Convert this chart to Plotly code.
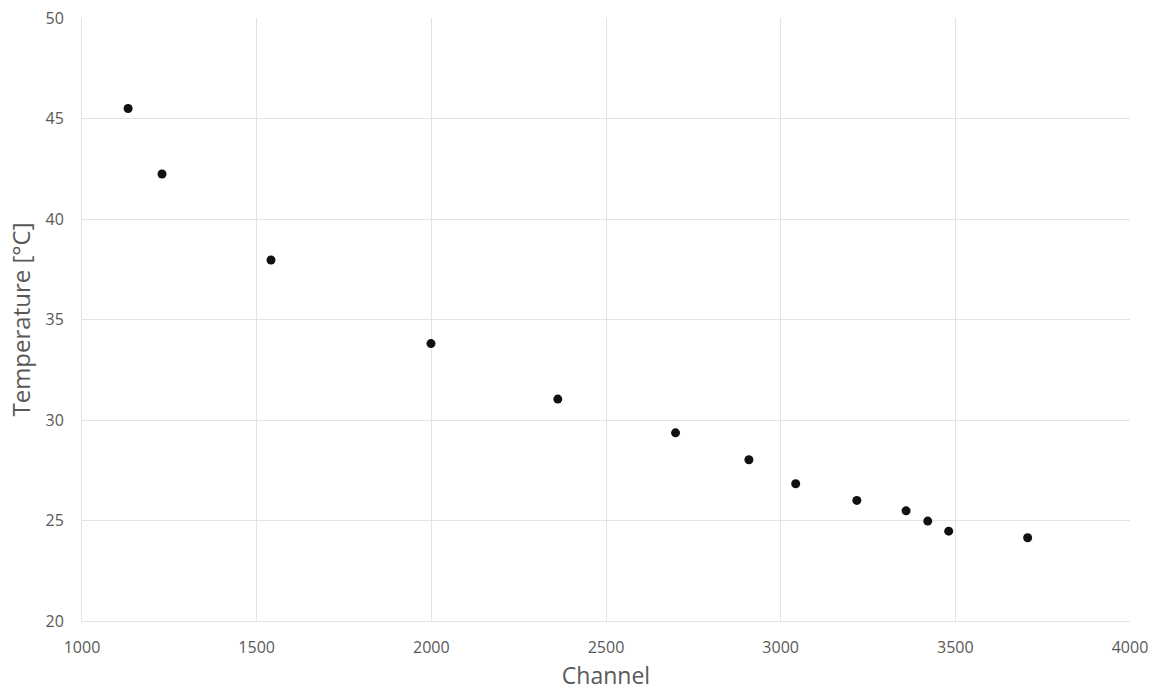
import plotly.graph_objects as go

channel = [1132, 1229, 1541, 1999, 2362, 2699, 2909, 3043, 3218, 3359, 3421, 3481, 3707]
temperature = [45.5, 42.24, 37.96, 33.8, 31.04, 29.36, 28.02, 26.83, 26.0, 25.48, 24.97, 24.47, 24.14]

fig = go.Figure(go.Scatter(
    x=channel, y=temperature, mode="markers",
    marker=dict(color="#111111", size=9),
))

axis_common = dict(
    showgrid=True, gridcolor="#e3e3e3", gridwidth=1,
    zeroline=False, showline=True, linecolor="#e3e3e3", linewidth=1,
    ticks="", tickfont=dict(size=16, color="#595959"),
    ticklabeloverflow="allow", automargin=False,
)

fig.update_layout(
    width=1156, height=691,
    margin=dict(l=82, r=26, t=18, b=70),
    paper_bgcolor="white", plot_bgcolor="white",
    font=dict(family="Open Sans, Liberation Sans, sans-serif", color="#595959"),
    showlegend=False,
    xaxis=dict(range=[1000, 4000], dtick=500, title_text="Channel",
               title_font=dict(size=23, color="#595959"), title_standoff=14,
               ticklabelstandoff=12, **axis_common),
    yaxis=dict(range=[20, 50], dtick=5, title_text="Temperature [°C]",
               title_font=dict(size=24, color="#595959"), title_standoff=8,
               ticklabelstandoff=14, **axis_common),
)

fig.write_html("out.html", config={"displayModeBar": False},
               post_script="document.body.style.margin='0';document.body.style.overflow='hidden';")
